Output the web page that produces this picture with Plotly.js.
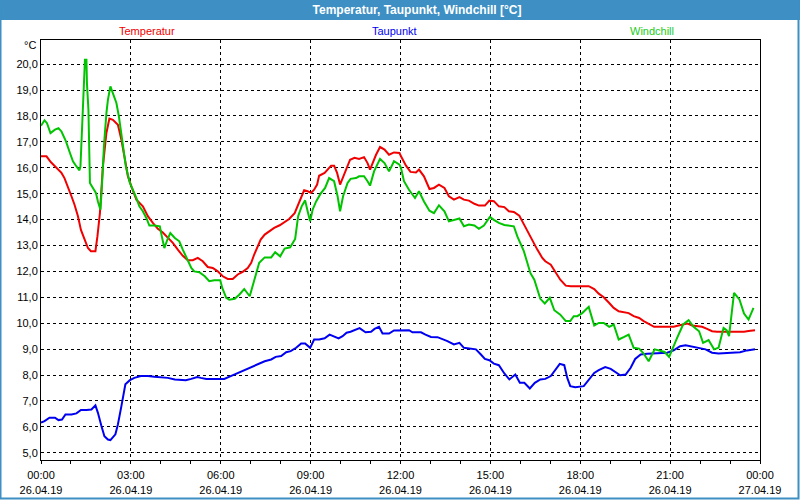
<!DOCTYPE html>
<html>
<head>
<meta charset="utf-8">
<script src="https://cdn.plot.ly/plotly-3.0.1.min.js"></script>
<style>
html,body{margin:0;padding:0;background:#fff;}
#chart{width:800px;height:500px;}
</style>
</head>
<body>
<div id="chart"></div>
<script>
// ---- DATA (hours after 26.04.19 00:00, values in °C) ----
const tempHours = [0.00,0.18,0.34,0.51,0.68,0.79,0.90,1.01,1.12,1.23,1.34,1.46,1.57,1.66,1.81,1.88,1.96,2.07,2.18,2.29,2.40,2.57,2.68,2.79,2.90,3.01,3.18,3.40,3.57,3.73,3.90,4.07,4.23,4.40,4.57,4.73,4.90,5.07,5.23,5.40,5.57,5.73,5.90,6.07,6.23,6.40,6.57,6.73,6.90,7.01,7.12,7.23,7.34,7.46,7.62,7.79,7.96,8.12,8.29,8.46,8.57,8.68,8.79,8.90,9.01,9.12,9.21,9.29,9.46,9.57,9.68,9.79,9.88,9.98,10.07,10.18,10.31,10.46,10.62,10.79,10.90,10.98,11.07,11.18,11.31,11.46,11.62,11.79,11.96,12.01,12.18,12.34,12.51,12.62,12.79,12.96,13.12,13.29,13.46,13.62,13.79,13.96,14.12,14.29,14.46,14.62,14.81,14.96,15.12,15.29,15.46,15.62,15.79,15.96,16.07,16.23,16.40,16.57,16.73,16.84,17.01,17.18,17.34,17.51,17.68,18.29,18.46,18.62,18.79,18.96,19.12,19.29,19.46,19.62,19.79,19.96,20.12,20.29,20.46,20.90,21.12,21.29,21.46,21.57,21.73,21.90,22.07,22.23,22.40,22.57,23.46,23.62,23.84];
const tempValues = [16.44,16.44,16.21,15.99,15.80,15.60,15.28,14.90,14.58,14.13,13.60,13.16,12.90,12.78,12.78,13.35,14.25,16.05,17.34,17.90,17.85,17.66,17.08,16.44,15.67,15.28,14.77,14.51,14.13,13.87,13.64,13.50,13.29,13.10,12.84,12.60,12.43,12.43,12.52,12.39,12.17,12.13,12.00,11.81,11.71,11.71,11.88,11.98,12.13,12.33,12.65,12.97,13.23,13.42,13.55,13.68,13.78,13.90,14.02,14.25,14.55,14.90,15.13,15.09,15.03,15.15,15.35,15.69,15.80,15.93,16.08,16.08,15.80,15.35,15.60,15.93,16.31,16.38,16.34,16.41,16.18,15.93,16.18,16.50,16.80,16.70,16.50,16.59,16.57,16.44,16.08,15.84,15.82,15.93,15.67,15.18,15.22,15.35,15.22,14.90,14.77,14.87,14.77,14.73,14.61,14.54,14.54,14.73,14.71,14.51,14.48,14.32,14.29,14.15,13.93,13.55,13.16,12.84,12.52,12.39,12.26,11.97,11.68,11.45,11.43,11.43,11.32,11.14,11.00,10.78,10.59,10.46,10.42,10.39,10.27,10.20,10.08,9.99,9.86,9.86,9.86,9.91,9.95,9.99,9.91,9.88,9.86,9.78,9.69,9.67,9.67,9.70,9.73];

const dewHours = [0.00,0.12,0.29,0.46,0.59,0.70,0.81,1.01,1.18,1.34,1.51,1.68,1.81,1.90,2.01,2.12,2.23,2.32,2.48,2.57,2.68,2.81,2.96,3.12,3.34,3.57,3.79,4.01,4.23,4.46,4.68,4.84,5.01,5.21,5.34,5.51,5.79,6.12,6.34,6.57,6.79,7.01,7.23,7.46,7.68,7.84,8.01,8.18,8.34,8.51,8.68,8.81,8.99,9.12,9.29,9.46,9.64,9.79,9.93,10.07,10.20,10.34,10.48,10.64,10.84,11.01,11.14,11.29,11.40,11.62,11.79,12.29,12.40,12.68,12.84,13.01,13.23,13.40,13.57,13.79,13.96,14.12,14.34,14.51,14.68,14.81,14.96,15.12,15.29,15.46,15.64,15.84,15.99,16.14,16.31,16.48,16.66,16.84,17.01,17.18,17.32,17.46,17.57,17.66,17.84,18.12,18.29,18.46,18.62,18.84,19.01,19.18,19.34,19.51,19.68,19.84,20.01,20.23,20.90,21.12,21.34,21.51,21.73,21.96,22.18,22.40,22.62,23.34,23.57,23.84];
const dewValues = [6.16,6.22,6.35,6.35,6.26,6.28,6.48,6.48,6.52,6.65,6.65,6.67,6.83,6.54,6.03,5.64,5.51,5.49,5.71,6.09,6.80,7.64,7.80,7.89,7.96,7.96,7.93,7.92,7.89,7.83,7.80,7.80,7.85,7.92,7.89,7.85,7.85,7.85,7.96,8.08,8.19,8.28,8.41,8.53,8.60,8.70,8.73,8.88,8.92,9.05,9.22,9.22,9.05,9.37,9.37,9.42,9.56,9.50,9.41,9.50,9.63,9.67,9.73,9.81,9.65,9.67,9.78,9.86,9.60,9.60,9.72,9.73,9.65,9.65,9.56,9.47,9.46,9.40,9.31,9.18,9.24,9.05,9.02,8.99,8.79,8.62,8.57,8.44,8.38,8.06,7.83,8.02,7.70,7.70,7.48,7.70,7.83,7.85,7.96,8.21,8.43,8.38,7.89,7.57,7.53,7.57,7.83,8.08,8.19,8.31,8.24,8.12,7.99,8.02,8.28,8.62,8.79,8.82,8.86,8.95,9.11,9.15,9.09,9.05,8.99,8.86,8.83,8.88,8.95,8.99];

const chillHours = [0.00,0.12,0.20,0.31,0.46,0.59,0.68,0.84,0.96,1.07,1.18,1.29,1.32,1.37,1.42,1.46,1.51,1.54,1.59,1.62,1.64,1.73,1.84,1.90,1.98,2.03,2.10,2.18,2.23,2.31,2.40,2.51,2.60,2.68,2.77,2.84,2.96,3.07,3.18,3.29,3.40,3.51,3.62,3.79,3.96,4.03,4.12,4.21,4.32,4.46,4.62,4.73,4.88,5.01,5.12,5.29,5.46,5.62,5.79,5.99,6.05,6.18,6.29,6.46,6.62,6.79,6.96,7.12,7.29,7.46,7.68,7.82,7.98,8.14,8.31,8.48,8.59,8.70,8.81,8.90,8.98,9.07,9.18,9.34,9.48,9.62,9.79,9.90,9.98,10.09,10.23,10.34,10.51,10.62,10.79,10.90,10.98,11.12,11.31,11.46,11.62,11.79,11.96,12.01,12.12,12.29,12.48,12.62,12.79,12.96,13.12,13.29,13.46,13.62,13.79,13.96,14.12,14.29,14.46,14.62,14.79,14.99,15.12,15.29,15.46,15.62,15.79,15.90,16.01,16.12,16.23,16.34,16.46,16.57,16.66,16.81,16.98,17.14,17.34,17.51,17.66,17.79,17.90,18.07,18.29,18.46,18.62,18.79,18.96,19.12,19.29,19.46,19.62,19.79,19.96,20.12,20.29,20.48,20.66,20.81,20.96,21.07,21.23,21.43,21.62,21.79,21.96,22.10,22.29,22.46,22.62,22.79,22.88,22.96,23.03,23.14,23.31,23.46,23.62,23.79];
const chillValues = [17.62,17.83,17.72,17.34,17.47,17.53,17.40,17.02,16.57,16.25,16.05,15.90,16.05,17.47,18.62,20.17,20.17,19.27,18.24,16.44,15.41,15.22,15.03,14.70,14.38,15.28,16.82,18.11,18.62,19.14,18.88,18.50,17.98,17.34,16.70,16.05,15.41,15.15,14.83,14.51,14.32,14.06,13.77,13.77,13.74,13.35,12.90,13.22,13.48,13.29,13.16,12.84,12.46,12.13,12.00,11.97,11.81,11.62,11.66,11.66,11.36,10.98,10.91,10.94,11.10,11.32,11.04,11.68,12.33,12.54,12.54,12.74,12.58,12.88,12.93,13.25,14.13,14.51,14.74,14.32,13.93,14.38,14.70,15.00,15.22,15.60,15.48,14.90,14.32,14.90,15.41,15.57,15.60,15.67,15.67,15.48,15.31,15.86,16.34,16.18,15.86,16.25,16.12,15.99,15.48,15.15,14.83,15.09,14.70,14.34,14.25,14.55,14.32,13.93,13.99,14.04,13.74,13.81,13.77,13.64,13.77,14.10,13.99,13.87,13.79,13.77,13.74,13.35,13.03,12.78,12.33,11.94,11.68,11.30,10.94,10.76,10.98,10.50,10.33,10.08,10.08,10.27,10.27,10.39,10.63,9.91,10.01,10.01,9.86,9.95,9.37,9.47,9.56,9.05,9.02,8.83,8.53,8.99,8.92,8.89,8.70,8.95,9.43,9.95,10.12,9.86,9.69,9.24,9.35,8.99,9.05,9.82,9.73,9.50,10.14,11.17,10.91,10.37,10.14,10.59];

const seriesNames = ["Temperatur", "Taupunkt", "Windchill"];
const yTickUnit = "°C";
const chartTitle = "Temperatur, Taupunkt, Windchill [°C]";

// ---- helpers ----
function pad(n){ return (n < 10 ? "0" : "") + n; }
function toTime(h){
  const m = Math.round(h * 60);
  const d = new Date(Date.UTC(2019, 3, 26, 0, m));
  return d.getUTCFullYear() + "-" + pad(d.getUTCMonth() + 1) + "-" + pad(d.getUTCDate()) +
         " " + pad(d.getUTCHours()) + ":" + pad(d.getUTCMinutes());
}
// plot area in pixels: left 41, right 760, top 40, bottom 460
const PL = 41, PR = 760, PT = 40, PB = 460;
const px = x => (x - PL) / (PR - PL);
const py = y => (PB - y) / (PB - PT);

const colors = { temp: "#f00000", dew: "#0000f0", chill: "#00c400" };
const FONT = "Liberation Sans, Arial, sans-serif";

const traces = [
  { x: dewHours.map(toTime), y: dewValues, name: seriesNames[1], type: "scatter", mode: "lines",
    line: { color: colors.dew, width: 2 } },
  { x: tempHours.map(toTime), y: tempValues, name: seriesNames[0], type: "scatter", mode: "lines",
    line: { color: colors.temp, width: 2 } },
  { x: chillHours.map(toTime), y: chillValues, name: seriesNames[2], type: "scatter", mode: "lines",
    line: { color: colors.chill, width: 2 } }
];

const layout = {
  width: 800, height: 500,
  margin: { l: PL, r: 800 - PR, t: PT, b: 500 - PB, pad: 0 },
  paper_bgcolor: "#ffffff", plot_bgcolor: "#ffffff",
  separators: ",.",
  showlegend: false,
  font: { family: FONT, size: 11, color: "#000000" },
  title: { text: chartTitle, x: px(417), xanchor: "center", y: 1 - 10 / 500, yanchor: "middle",
           yref: "container", xref: "paper",
           font: { family: FONT, size: 12, color: "#ffffff", weight: "bold" } },
  xaxis: {
    type: "date",
    range: [toTime(0), toTime(24)],
    tick0: toTime(0), dtick: 3 * 3600 * 1000,
    tickformat: "%H:%M<br>%d.%m.%y",
    ticks: "outside", ticklen: 3, tickcolor: "#000", tickwidth: 1,
    ticklabelstandoff: 2,
    minor: { dtick: 3600 * 1000, ticks: "outside", ticklen: 3, tickcolor: "#000", showgrid: false },
    showgrid: true, gridcolor: "#000000", gridwidth: 1, griddash: "3px,3px",
    showline: true, linecolor: "#000000", linewidth: 1, mirror: true,
    zeroline: false, fixedrange: true,
    tickfont: { family: FONT, size: 11, color: "#000" }
  },
  yaxis: {
    range: [4.72, 20.93],
    tick0: 5, dtick: 1, tickformat: ".1f",
    ticks: "",
    showgrid: true, gridcolor: "#000000", gridwidth: 1, griddash: "3px,3px",
    showline: true, linecolor: "#000000", linewidth: 1, mirror: true,
    zeroline: false, fixedrange: true,
    tickfont: { family: FONT, size: 11, color: "#000" }
  },
  shapes: [
    { type: "rect", xref: "paper", yref: "paper", layer: "below",
      x0: px(0), x1: px(800), y0: py(20), y1: py(0),
      fillcolor: "#3d8fc4", line: { width: 0 } },
    { type: "rect", xref: "paper", yref: "paper", layer: "below",
      x0: px(0.5), x1: px(798.5), y0: py(498.5), y1: py(0),
      fillcolor: "rgba(0,0,0,0)", line: { color: "#3d8fc4", width: 2 } }
  ],
  annotations: [
    { text: seriesNames[0], xref: "paper", yref: "paper", x: px(147), y: py(31),
      xanchor: "center", yanchor: "middle", showarrow: false,
      font: { family: FONT, size: 11, color: colors.temp } },
    { text: seriesNames[1], xref: "paper", yref: "paper", x: px(394), y: py(31),
      xanchor: "center", yanchor: "middle", showarrow: false,
      font: { family: FONT, size: 11, color: colors.dew } },
    { text: seriesNames[2], xref: "paper", yref: "paper", x: px(652), y: py(31),
      xanchor: "center", yanchor: "middle", showarrow: false,
      font: { family: FONT, size: 11, color: "#22cc22" } },
    { text: yTickUnit, xref: "paper", yref: "paper", x: px(38), y: py(45),
      xanchor: "right", yanchor: "middle", showarrow: false,
      font: { family: FONT, size: 11, color: "#000" } }
  ]
};

Plotly.newPlot("chart", traces, layout, { displayModeBar: false, staticPlot: true });
</script>
</body>
</html>
